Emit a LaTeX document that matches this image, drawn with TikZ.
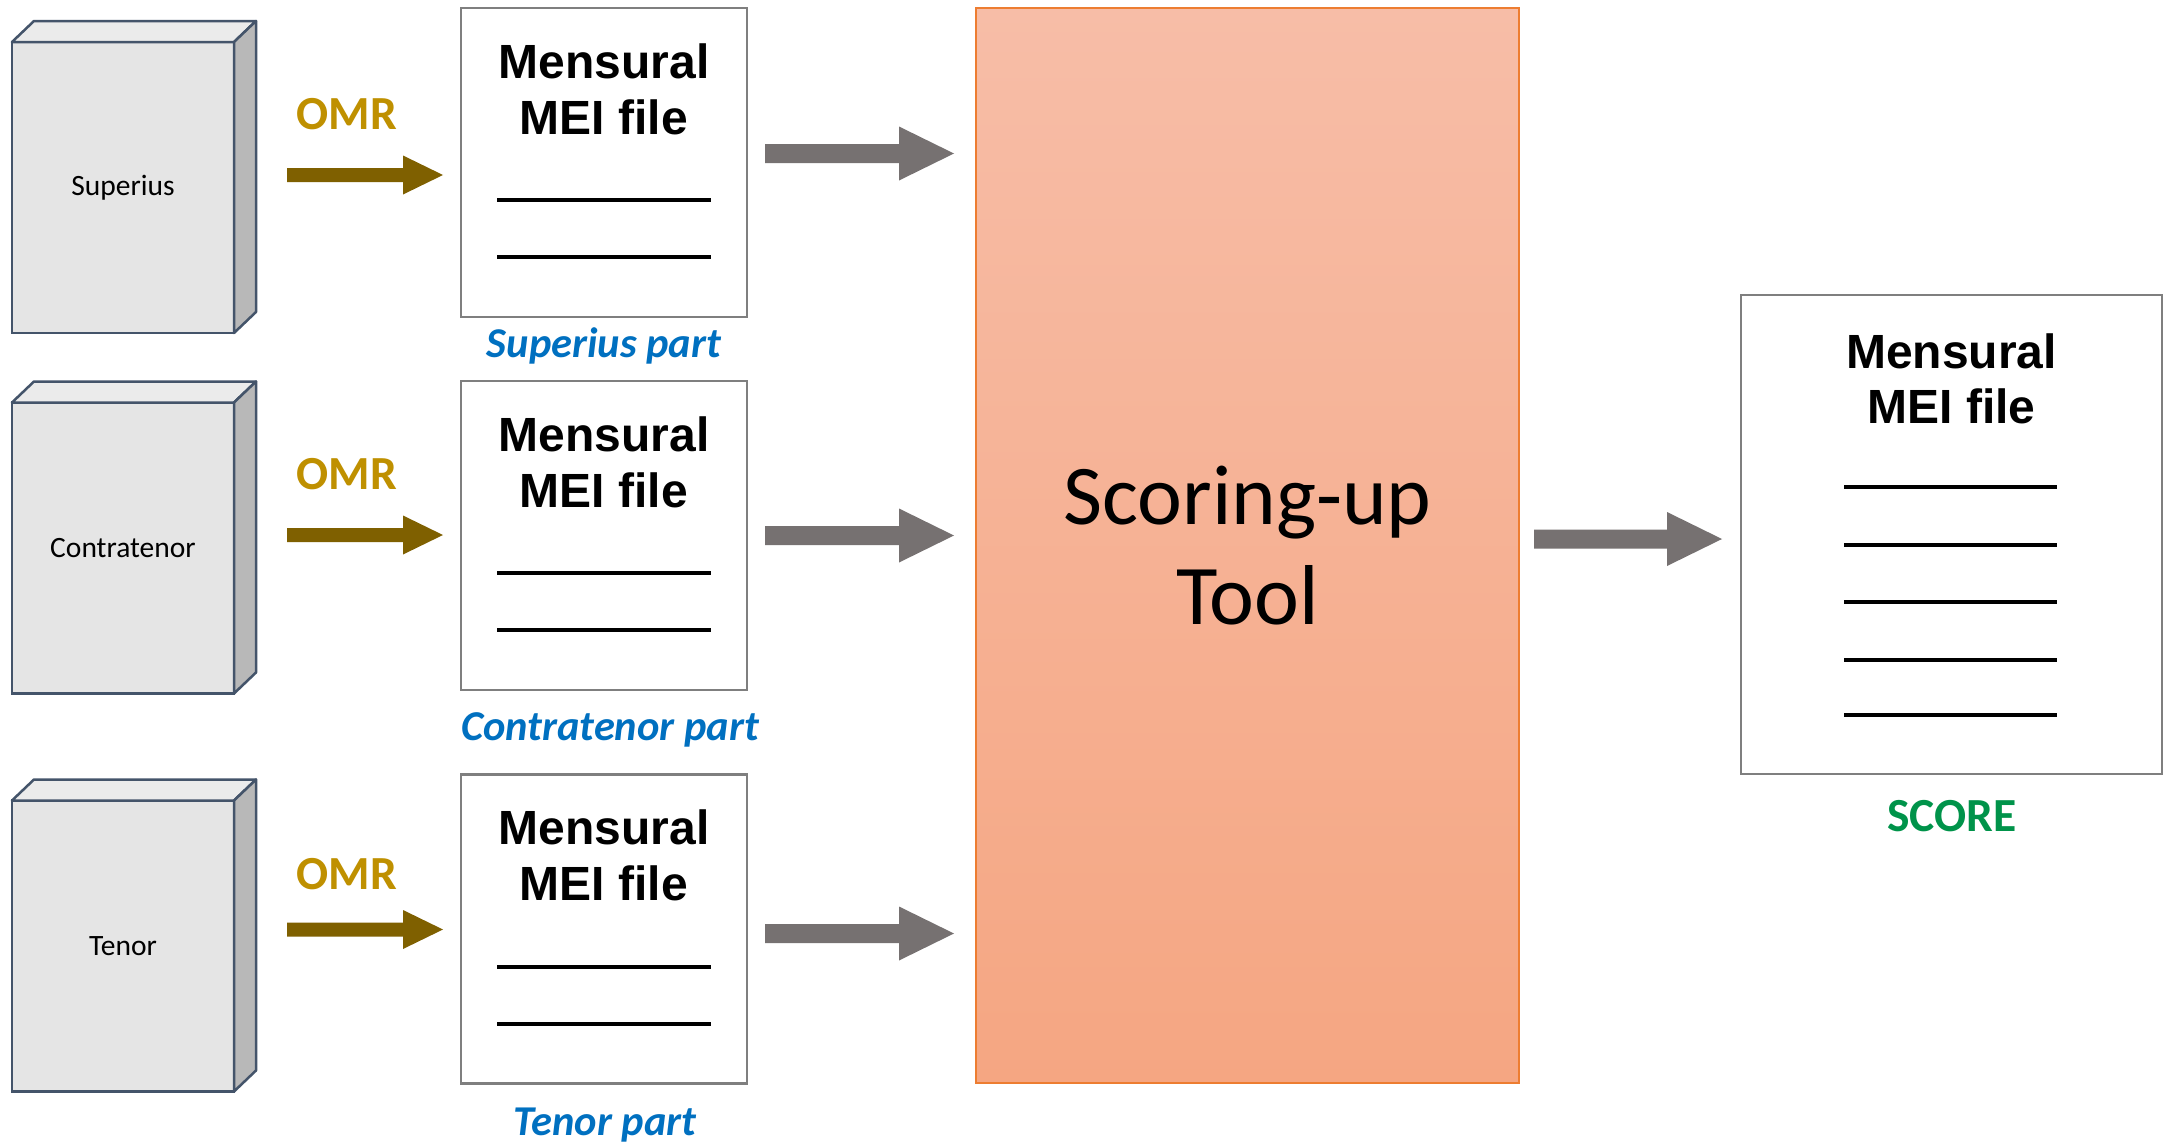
\documentclass[tikz,border=0pt]{standalone}
\usepackage{fontspec}
\setmainfont{Carlito}
\newfontfamily\arialf{Liberation Sans}
\usetikzlibrary{calc}
\definecolor{boxfront}{HTML}{E5E5E5}
\definecolor{boxtop}{HTML}{EBEBEB}
\definecolor{boxside}{HTML}{B8B8B8}
\definecolor{boxedge}{HTML}{44546A}
\definecolor{docedge}{HTML}{7F7F7F}
\definecolor{omrtext}{HTML}{BF9000}
\definecolor{omrarrow}{HTML}{7F6000}
\definecolor{grayarrow}{HTML}{767171}
\definecolor{partblue}{HTML}{0070C0}
\definecolor{scoregreen}{HTML}{00934A}
\definecolor{tooltop}{HTML}{F7BDA7}
\definecolor{toolbot}{HTML}{F5A682}
\definecolor{tooledge}{HTML}{ED7D31}
\newcommand\blockarrow[6]{%
  \fill[#1] ($(#2)+(0,-#4)$) -- ($(#3)+(-#6,-#4)$) -- ($(#3)+(-#6,-#5)$) -- (#3)
   -- ($(#3)+(-#6,#5)$) -- ($(#3)+(-#6,#4)$) -- ($(#2)+(0,#4)$) -- cycle;}
\tikzset{
  frontbox/.style={draw=boxedge, fill=boxfront, line width=2.5, minimum width=222,
    minimum height=291, inner sep=0, outer sep=0, font=\fontsize{29.5}{35}\selectfont},
  facetop/.style={draw=boxedge, fill=boxtop, line width=2.5, line join=round},
  faceside/.style={draw=boxedge, fill=boxside, line width=2.5, line join=round},
  docbox/.style={draw=docedge, fill=white, line width=2.5, inner sep=0, outer sep=0},
  meitxt/.style={font=\arialf\bfseries\fontsize{48}{56}\selectfont, inner sep=0},
  docline/.style={line width=4, black},
  omrlbl/.style={font=\bfseries\fontsize{47.5}{56}\selectfont, text=omrtext, inner sep=0},
  partlbl/.style={font=\bfseries\itshape\fontsize{42.5}{50}\selectfont, text=partblue, inner sep=0},
}
\begin{document}
\begin{tikzpicture}[x=1pt,y=-1pt]
\useasboundingbox (0,0) rectangle (2166,1143);
\fill[white] (0,0) rectangle (2166,1143);

% 3D source boxes
\foreach \nm/\cy/\lab in {b1/187.5/Superius, b2/548/Contratenor, b3/946/Tenor}{
  \node[frontbox] (\nm) at (123,\cy) {\lab};
  \filldraw[facetop] (\nm.north west) -- ++(22,-21) -- ++(222,0) -- (\nm.north east) -- cycle;
  \filldraw[faceside] (\nm.north east) -- ++(22,-21) -- ++(0,291) -- (\nm.south east) -- cycle;
}

% OMR labels and arrows
\node[omrlbl] (o1) at (347,114) {OMR};
\node[omrlbl] (o2) at (347,474) {OMR};
\node[omrlbl] (o3) at (347,874) {OMR};
\coordinate (o1s) at (287,175);   \coordinate (o1e) at (443,175);
\coordinate (o2s) at (287,535);   \coordinate (o2e) at (443,535);
\coordinate (o3s) at (287,929.5); \coordinate (o3e) at (443,929.5);
\blockarrow{omrarrow}{o1s}{o1e}{7}{19.5}{40}
\blockarrow{omrarrow}{o2s}{o2e}{7}{19.5}{40}
\blockarrow{omrarrow}{o3s}{o3e}{7}{19.5}{40}

% part documents
\foreach \nm/\cy in {d1/162.5, d2/535.5, d3/929}{
  \node[docbox, minimum width=286, minimum height=309] (\nm) at (604,\cy) {};
  \node[meitxt] (\nm m) at ($(\nm.north)+(0,53)$) {Mensural};
  \node[meitxt] (\nm f) at ($(\nm.north)+(0,109)$) {MEI file};
  \draw[docline] ($(\nm.north west)+(36,192)$) -- ++(214,0);
  \draw[docline] ($(\nm.north west)+(36,249)$) -- ++(214,0);
}
\node[partlbl] (p1) at (604,345.5) {Superius part};
\node[partlbl] (p2) at (610,730) {Contratenor part};
\node[partlbl] (p3) at (605,1125) {Tenor part};

% scoring-up tool
\node[draw=tooledge, line width=1.5, top color=tooltop, bottom color=toolbot,
  minimum width=543, minimum height=1075, inner sep=0, align=center,
  font=\fontsize{85}{100}\selectfont] (tool) at (1247.5,545.5) {Scoring-up\\Tool};

% gray arrows
\coordinate (g1s) at (765,153.5); \coordinate (g1e) at (954,153.5);
\coordinate (g2s) at (765,535.5); \coordinate (g2e) at (954,535.5);
\coordinate (g3s) at (765,933.5); \coordinate (g3e) at (954,933.5);
\coordinate (g4s) at (1534,539);  \coordinate (g4e) at (1722,539);
\blockarrow{grayarrow}{g1s}{g1e}{9.5}{27}{55}
\blockarrow{grayarrow}{g2s}{g2e}{9.5}{27}{55}
\blockarrow{grayarrow}{g3s}{g3e}{9.5}{27}{55}
\blockarrow{grayarrow}{g4s}{g4e}{9.5}{27}{55}

% score document
\node[docbox, minimum width=421, minimum height=479] (sc) at (1951.5,534.5) {};
\node[meitxt] (scm) at ($(sc.north)+(0,56)$) {Mensural};
\node[meitxt] (scf) at ($(sc.north)+(0,111)$) {MEI file};
\foreach \dy in {192,250,307,365,420}{
  \draw[docline] ($(sc.north west)+(103,\dy)$) -- ++(213,0);
}
\node[font=\bfseries\fontsize{47.5}{56}\selectfont, text=scoregreen, inner sep=0] (scl) at (1952,816) {SCORE};
\end{tikzpicture}
\end{document}
